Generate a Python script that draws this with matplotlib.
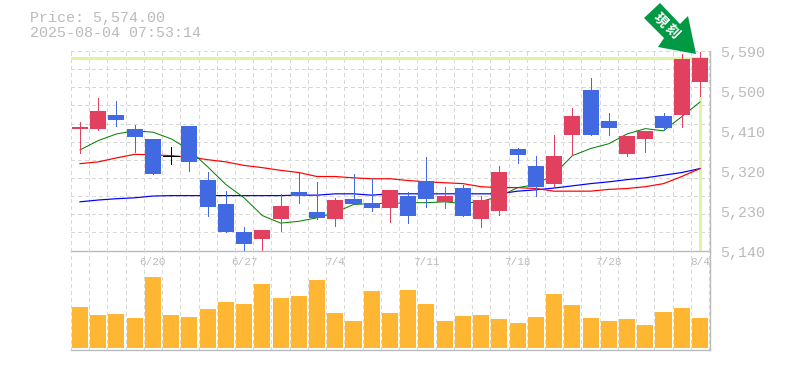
import matplotlib

matplotlib.use("Agg")
import matplotlib.pyplot as plt
import numpy as np
from matplotlib.patches import Polygon

# ------------ data -------------#
opens = [5415, 5415, 5446, 5415, 5392, 5354, 5421, 5300, 5244, 5183, 5167, 5212, 5271, 5228, 5212, 5257, 5248, 5237,
         5262, 5298, 5250, 5282, 5212, 5230, 5370, 5331, 5291, 5401, 5502, 5433, 5358, 5392, 5444, 5446, 5520]
closes = [5419, 5455, 5435, 5397, 5313, 5354, 5340, 5239, 5181, 5154, 5187, 5241, 5264, 5214, 5255, 5246, 5235, 5277,
          5217, 5257, 5262, 5219, 5253, 5318, 5356, 5284, 5354, 5444, 5401, 5417, 5399, 5410, 5417, 5572, 5574]
highs = [5430, 5484, 5478, 5424, 5392, 5374, 5421, 5318, 5275, 5194, 5187, 5268, 5316, 5295, 5259, 5313, 5304, 5277,
         5273, 5352, 5284, 5289, 5262, 5331, 5372, 5354, 5401, 5462, 5529, 5451, 5399, 5410, 5451, 5583, 5588]
lows = [5360, 5412, 5421, 5363, 5313, 5336, 5320, 5217, 5181, 5140, 5142, 5185, 5248, 5212, 5196, 5246, 5230, 5205,
        5203, 5239, 5235, 5217, 5194, 5221, 5338, 5262, 5284, 5356, 5401, 5401, 5354, 5363, 5412, 5419, 5489]
volume = [41, 33, 34, 30, 71, 33, 31, 39, 46, 44, 64, 50, 52, 68, 35, 27, 57, 35,
          58, 44, 27, 32, 33, 29, 25, 31, 54, 43, 30, 27, 29, 23, 36, 40, 30]

ma_short = [5367, 5388, 5403, 5410, 5407, 5392, 5367, 5329, 5289, 5259, 5219, 5202, 5206, 5214, 5226, 5244, 5246, 5246,
            5248, 5248, 5250, 5246, 5251, 5262, 5282, 5289, 5312, 5354, 5370, 5381, 5403, 5415, 5410, 5442, 5475]
ma_mid = [5336, 5340, 5349, 5357, 5356, 5354, 5351, 5345, 5340, 5332, 5327, 5321, 5316, 5307, 5307, 5304, 5302, 5302,
          5298, 5295, 5293, 5291, 5284, 5282, 5282, 5280, 5274, 5274, 5274, 5278, 5280, 5284, 5291, 5307, 5325]
ma_long = [5250, 5254, 5257, 5259, 5263, 5264, 5264, 5264, 5264, 5264, 5264, 5264, 5265, 5265, 5268, 5268, 5265, 5268,
           5268, 5268, 5268, 5268, 5268, 5268, 5274, 5277, 5281, 5286, 5291, 5295, 5300, 5304, 5310, 5316, 5325]

price_ticks = [5590, 5500, 5410, 5320, 5230, 5140]
date_ticks = [4, 9, 14, 19, 24, 29, 34]
date_labels = ["6/20", "6/27", "7/4", "7/11", "7/18", "7/28", "8/4"]
last_price = 5574
header_price = "Price: 5,574.00"
header_time = "2025-08-04 07:53:14"
arrow_label = "現刻"

UP = "#e2405f"
DOWN = "#4169e1"
VOL = "#ffb733"
LIME = "#e0f5a0"
GRID = "#d8d8d8"
EDGE = "#bbbbbb"
TEXT = "#bbbbbb"
MONO = "Liberation Mono"

W, H = 785, 370
px = 0.72  # one pixel in points at dpi 100

fig = plt.figure(figsize=(W / 100, H / 100), dpi=100)


def pixel_axes(left, top, right, bottom):
    return fig.add_axes([left / W, 1 - bottom / H, (right - left) / W, (bottom - top) / H])


ax = pixel_axes(70.5, 51, 710, 250.6)
vax = pixel_axes(70.5, 250.6, 710, 350)

x = np.arange(len(closes))
grid_x = np.arange(-1, len(closes)) + 0.5

for a in (ax, vax):
    a.set_xlim(-0.52, 34.55)
    a.patch.set_alpha(0)
    a.spines["top"].set_visible(False)
    a.spines["left"].set_visible(False)
    a.spines["right"].set_color(EDGE)
    a.spines["bottom"].set_color(EDGE)
    a.spines["right"].set_linewidth(1.4 * px)
    a.spines["bottom"].set_linewidth(1.4 * px)
    a.set_xticks(grid_x)
    a.tick_params(length=0, labelbottom=False, labelleft=False)
    a.grid(axis="x", color=GRID, linestyle=(0, (3, 3)), linewidth=1.1 * px, zorder=0, antialiased=False, clip_on=False)
    a.set_axisbelow(True)

# ----- price panel -----#
ax.set_ylim(5140, 5590)
ax.set_yticks(np.linspace(5140, 5590, 12))
ax.grid(axis="y", color=GRID, linestyle=(0, (3, 3)), linewidth=1.1 * px, zorder=0, antialiased=False, clip_on=False)

ax.axhline(last_price, xmin=0, xmax=0.995, color=LIME, linewidth=3 * px, zorder=1)
ax.plot([x[-1], x[-1]], [5140, lows[-1]], color=LIME, linewidth=3 * px, solid_capstyle="butt", zorder=1)

ax.plot(x, ma_long, color="#0000ff", linewidth=1.2 * px, zorder=2)
ax.plot(x, ma_mid, color="#ff0000", linewidth=1.2 * px, zorder=2)
ax.plot(x, ma_short, color="#008000", linewidth=1.0 * px, zorder=2)

for i in x:
    if closes[i] == opens[i]:
        color = "black"
    elif closes[i] > opens[i]:
        color = UP
    else:
        color = DOWN
    ax.vlines(i, lows[i], highs[i], color=color, linewidth=0.85 * px, zorder=3, antialiased=False)
    if closes[i] == opens[i]:
        ax.hlines(closes[i], i - 0.44, i + 0.44, color=color, linewidth=0.85 * px, zorder=3, antialiased=False)
    else:
        ax.bar(i, abs(closes[i] - opens[i]), bottom=min(opens[i], closes[i]), width=0.88, color=color, zorder=4,
               antialiased=False)

for p in price_ticks:
    ax.annotate(f"{p:,}", xy=(1, (p - 5140) / 450), xycoords="axes fraction", xytext=(10 * px, -2.5 * px),
                textcoords="offset points", va="center", ha="left", color=TEXT, family=MONO, fontsize=15 * px,
                annotation_clip=False)

# ----- volume panel -----#
vax.set_ylim(-2, 97.4)
vax.set_yticks([])
vax.bar(x, volume, width=0.88, color=VOL, zorder=3, antialiased=False)
for i, label in zip(date_ticks, date_labels):
    vax.annotate(label, xy=(i, 97.4), xycoords="data", xytext=(0, -11.5 * px), textcoords="offset points",
                 ha="center", va="center", color=TEXT, family=MONO, fontsize=11 * px, zorder=2)

# ----- header and arrow -----#
fig.text(30 / W, 1 - 18 / H, header_price, color=TEXT, family=MONO, fontsize=15 * px, va="center", ha="left")
fig.text(30 / W, 1 - 33 / H, header_time, color=TEXT, family=MONO, fontsize=15 * px, va="center", ha="left")

arrow_px = [(660, 3), (644, 18), (664, 38), (658, 47), (696, 54), (688, 16), (680, 24)]
arrow_xy = [(a / W, 1 - b / H) for a, b in arrow_px]
fig.add_artist(Polygon(arrow_xy, closed=True, transform=fig.transFigure, facecolor="#009944", edgecolor="none", zorder=6))
for char, (cx, cy) in zip(arrow_label, [(660.5, 20), (672.5, 31)]):
    fig.text(cx / W, 1 - cy / H, char, color="white", family=["Noto Sans CJK JP", "DejaVu Sans"], fontsize=14 * px,
             fontweight="bold", rotation=-45, rotation_mode="anchor", ha="center", va="center", zorder=7)

fig.savefig("out.png", dpi=100)
